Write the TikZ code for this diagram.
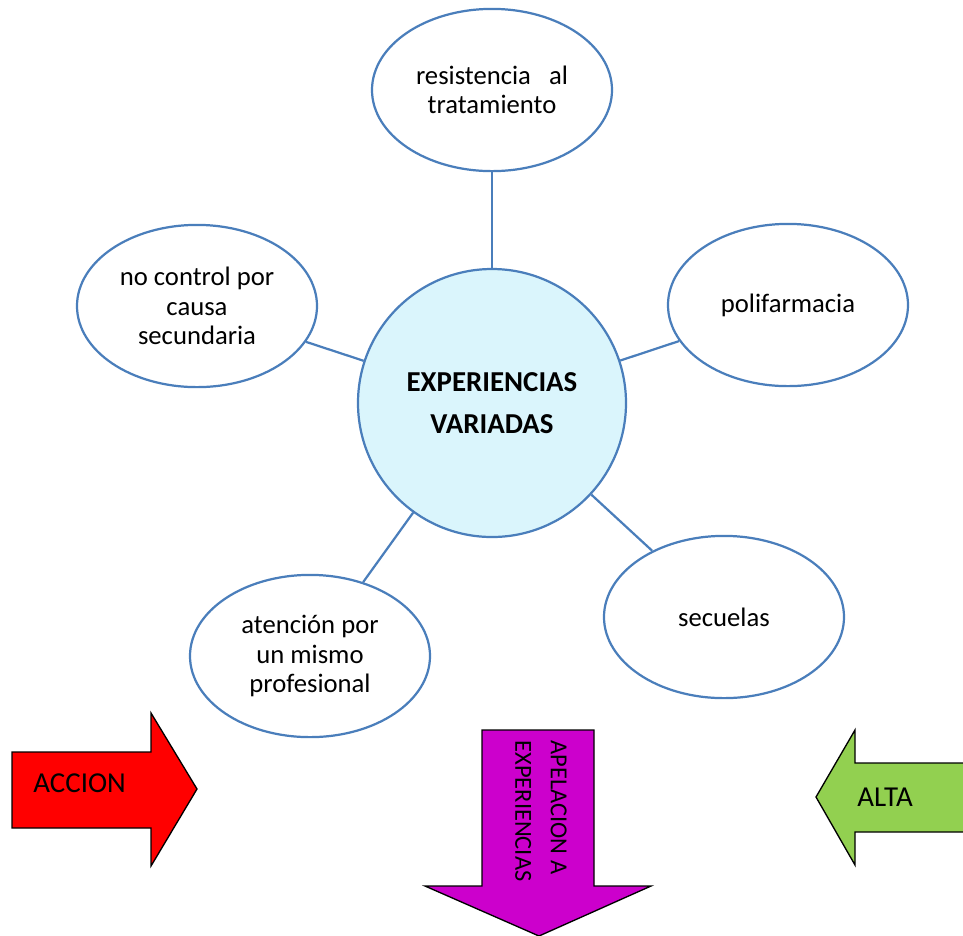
\documentclass[tikz,border=0pt]{standalone}
\usepackage{fontspec}
\setmainfont{Carlito}
\usetikzlibrary{shapes.geometric}

\definecolor{linkblue}{HTML}{4A7EBB}
\definecolor{paleblue}{HTML}{DAF5FC}
\definecolor{purplearrow}{HTML}{CC00CC}
\definecolor{greenarrow}{HTML}{92D050}

\begin{document}
\begin{tikzpicture}[x=0.45pt, y=-0.45pt,
    idea/.style={ellipse, draw=linkblue, line width=1pt, fill=white, inner sep=0pt,
        minimum width=108pt, minimum height=73pt, align=center,
        font=\fontsize{12}{13.2}\selectfont},
    hub/.style={circle, draw=linkblue, line width=1pt, fill=paleblue, inner sep=0pt,
        minimum size=120.6pt, align=center, font=\fontsize{13}{19}\selectfont\bfseries},
    link/.style={draw=linkblue, line width=1pt},
    block/.style={draw=black, line width=0.6pt, line join=miter},
    label/.style={inner sep=0pt, font=\fontsize{13}{15}\selectfont}]
			\useasboundingbox (0, 0) rectangle (963, 935);

			\node (hub)[hub] at (492, 403) {EXPERIENCIAS\\VARIADAS};

			\node (resist)[idea] at (492, 90) {resistencia\ \ \ al\\tratamiento};
			\node (control)[idea] at (197, 306) {no control por\\causa\\secundaria};
			\node (polif)[idea] at (788, 305) {polifarmacia};
			\node (atencion)[idea] at (310, 656) {atención por\\un mismo\\profesional};
			\node (secuelas)[idea] at (724, 617) {secuelas};

			\draw[link] (hub) -- (resist);
			\draw[link] (hub) -- (control);
			\draw[link] (hub) -- (polif);
			\draw[link] (hub) -- (atencion);
			\draw[link] (hub) -- (secuelas);

			% block arrows
			\draw[block, fill=red] (12, 752) -- (151, 752) -- (151, 713) -- (197, 789)
				-- (151, 866) -- (151, 828) -- (12, 828) -- cycle;
			\node (accion)[label, anchor=west] at (33, 783) {ACCION};

			\draw[block, fill=purplearrow] (482, 730) -- (594, 730) -- (594, 886) -- (651, 886)
				-- (539, 936) -- (425, 886) -- (482, 886) -- cycle;
			\node (apelacion)[label, rotate=-90, align=left,
				font=\fontsize{11}{16}\selectfont] at (541, 811) {APELACION A\\EXPERIENCIAS};

			\draw[block, fill=greenarrow] (975, 763) -- (855, 763) -- (855, 730) -- (816, 797)
				-- (855, 865) -- (855, 832) -- (975, 832) -- cycle;
			\node (alta)[label, anchor=west] at (857, 797) {ALTA};
		\end{tikzpicture}
\end{document}
